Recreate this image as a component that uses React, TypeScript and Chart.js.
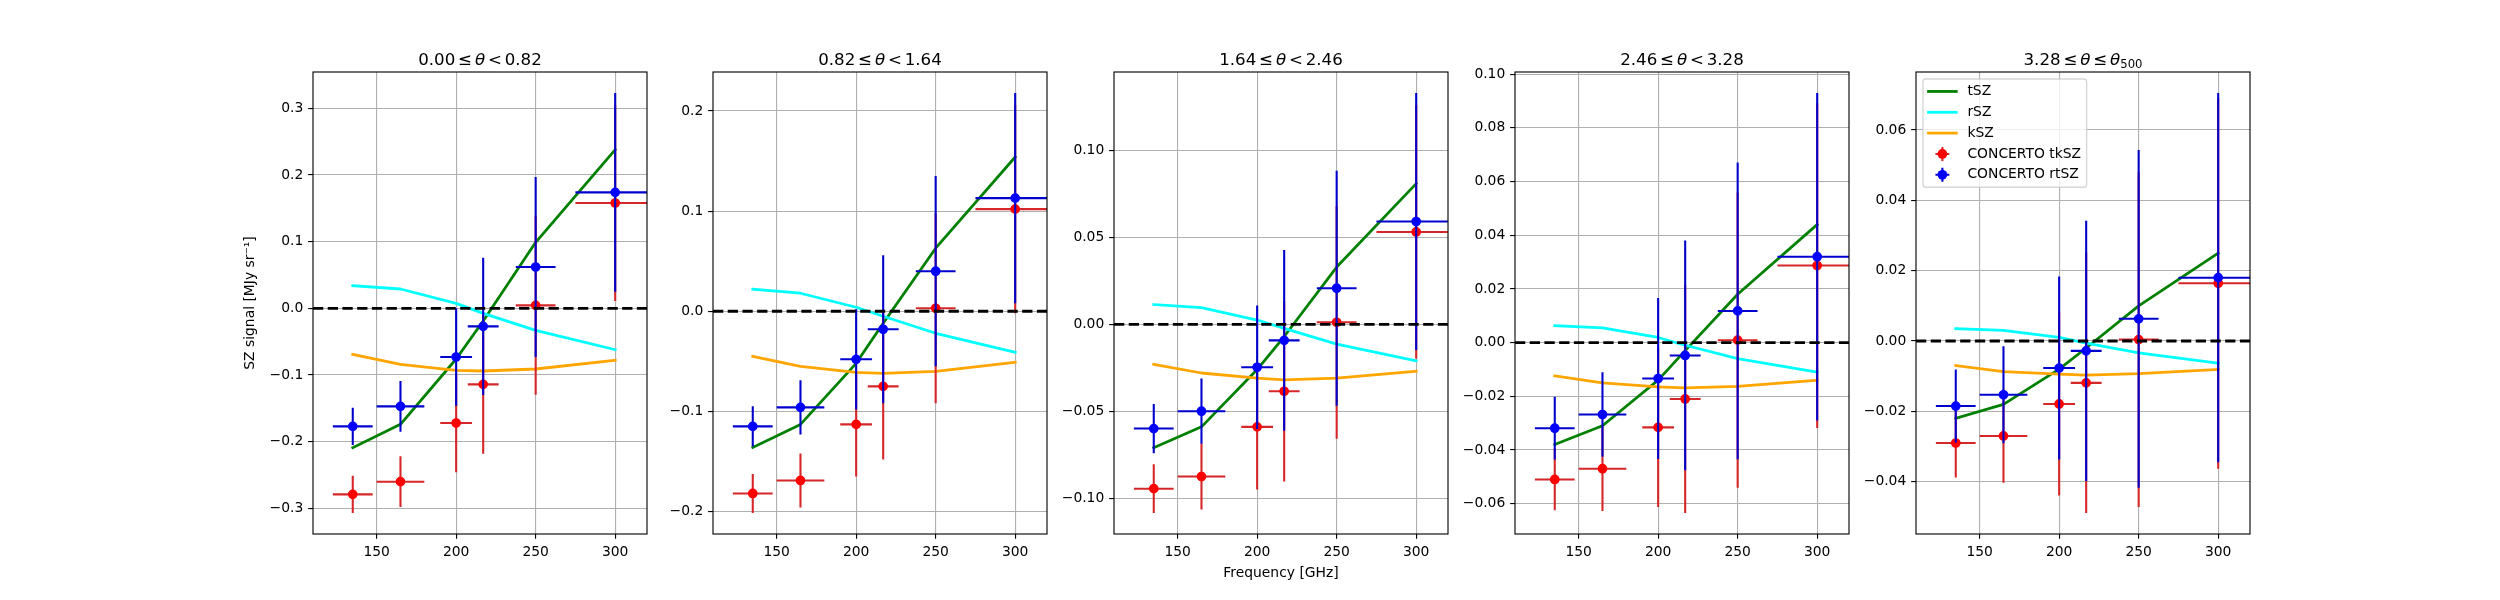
import { useEffect, useRef } from "react";
import { Chart, registerables } from "chart.js";

Chart.register(...registerables);

// CONCERTO band centres [GHz] and half band widths
const frequencies = [135, 165, 200, 217, 250, 300];
const bandHalfWidth = [12.5, 15, 10, 9.7, 12.5, 25];

const panelTitles = [
  "0.00 ≤ θ < 0.82",
  "0.82 ≤ θ < 1.64",
  "1.64 ≤ θ < 2.46",
  "2.46 ≤ θ < 3.28",
  "3.28 ≤ θ ≤ θ_500",
];

// model spectra per radial bin [MJy/sr]
const tSZ = [
  [-0.209, -0.174, -0.076, -0.019, 0.099, 0.238],
  [-0.136, -0.113, -0.052, -0.012, 0.063, 0.154],
  [-0.071, -0.059, -0.026, -0.007, 0.033, 0.081],
  [-0.038, -0.031, -0.014, -0.003, 0.018, 0.044],
  [-0.022, -0.018, -0.008, -0.002, 0.01, 0.025],
];
const rSZ = [
  [0.034, 0.029, 0.0075, -0.0075, -0.033, -0.062],
  [0.022, 0.018, 0.004, -0.005, -0.022, -0.041],
  [0.0114, 0.0096, 0.0025, -0.0023, -0.0114, -0.021],
  [0.0063, 0.0055, 0.0019, -0.001, -0.006, -0.011],
  [0.0035, 0.003, 0.001, -0.0006, -0.0034, -0.0063],
];
const kSZ = [
  [-0.069, -0.084, -0.093, -0.094, -0.091, -0.078],
  [-0.045, -0.055, -0.061, -0.062, -0.06, -0.051],
  [-0.023, -0.028, -0.031, -0.032, -0.031, -0.027],
  [-0.0124, -0.015, -0.0165, -0.0169, -0.0163, -0.014],
  [-0.007, -0.0087, -0.0094, -0.0097, -0.0093, -0.0081],
];

// CONCERTO reconstructions with 1 sigma errors
const tkSZ = [
  [-0.279, -0.26, -0.172, -0.114, 0.0045, 0.158],
  [-0.182, -0.169, -0.113, -0.075, 0.003, 0.102],
  [-0.0946, -0.0876, -0.059, -0.0385, 0.0012, 0.0532],
  [-0.051, -0.047, -0.0316, -0.021, 0.0009, 0.0287],
  [-0.029, -0.027, -0.0179, -0.0119, 0.0004, 0.0164],
];
const tkSZErr = [
  [0.028, 0.038, 0.074, 0.104, 0.134, 0.147],
  [0.0195, 0.027, 0.052, 0.073, 0.095, 0.104],
  [0.014, 0.019, 0.036, 0.052, 0.067, 0.073],
  [0.0115, 0.0158, 0.0297, 0.0425, 0.055, 0.0605],
  [0.0098, 0.0133, 0.026, 0.037, 0.0476, 0.0527],
];
const rtSZ = [
  [-0.177, -0.147, -0.073, -0.027, 0.062, 0.174],
  [-0.115, -0.096, -0.048, -0.018, 0.04, 0.113],
  [-0.06, -0.05, -0.0247, -0.0092, 0.0208, 0.0592],
  [-0.0319, -0.0268, -0.0134, -0.0048, 0.0118, 0.032],
  [-0.0185, -0.0153, -0.0077, -0.0028, 0.0063, 0.018],
];
const rtSZErr = [
  [0.028, 0.038, 0.073, 0.103, 0.135, 0.149],
  [0.02, 0.027, 0.05, 0.074, 0.095, 0.105],
  [0.0142, 0.0188, 0.0355, 0.052, 0.0677, 0.074],
  [0.0117, 0.0157, 0.03, 0.0428, 0.0553, 0.061],
  [0.0104, 0.0138, 0.026, 0.037, 0.048, 0.0525],
];

const xRange = [110, 320];
const xTicks = [150, 200, 250, 300];
const yTicks = [
  [-0.3, -0.2, -0.1, 0, 0.1, 0.2, 0.3],
  [-0.2, -0.1, 0, 0.1, 0.2],
  [-0.1, -0.05, 0, 0.05, 0.1],
  [-0.06, -0.04, -0.02, 0, 0.02, 0.04, 0.06, 0.08, 0.1],
  [-0.04, -0.02, 0, 0.02, 0.04, 0.06],
];
const yDecimals = [1, 1, 2, 2, 2];
const legendOrder = ["tSZ", "rSZ", "kSZ", "CONCERTO tkSZ", "CONCERTO rtSZ"];

// figure geometry (matplotlib 25x6 in at 100 dpi)
const PX = 100 / 72;
const FONT = "'DejaVu Sans'";
const FS = 10 * PX;
const AX_TOP = 72;
const AX_BOTTOM = 534;
const AX_W = 334;
const GUTTER = 110;
const RIGHT_PAD = 15;
const CANVAS_W = GUTTER + AX_W + RIGHT_PAD;
const axLeft = (i: number) => Math.round(312.5 + i * 400.9);

Chart.defaults.font.family = FONT;
Chart.defaults.font.size = FS;
Chart.defaults.color = "#000";

const fmt = (v: number, d: number) => {
  const s = Math.abs(v).toFixed(d);
  return v < -1e-9 ? "\u2212" + s : s;
};

function yLimits(i: number) {
  let lo = Infinity;
  let hi = -Infinity;
  const pairs: [number[], number[]][] = [
    [tkSZ[i], tkSZErr[i]],
    [rtSZ[i], rtSZErr[i]],
  ];
  for (const [vals, errs] of pairs) {
    vals.forEach((v, k) => {
      lo = Math.min(lo, v - errs[k]);
      hi = Math.max(hi, v + errs[k]);
    });
  }
  for (const vals of [tSZ[i], rSZ[i], kSZ[i]]) {
    lo = Math.min(lo, ...vals);
    hi = Math.max(hi, ...vals);
  }
  const m = (hi - lo) * 0.05;
  return [lo - m, hi + m];
}

const errorBars = {
  id: "errorBars",
  beforeDatasetDraw(chart: any, args: any) {
    const ds = chart.data.datasets[args.index];
    if (!ds.yErr) return;
    const { ctx, chartArea: a } = chart;
    const { x, y } = chart.scales;
    ctx.save();
    ctx.beginPath();
    ctx.rect(a.left, a.top, a.right - a.left, a.bottom - a.top);
    ctx.clip();
    ctx.strokeStyle = ds.barColor;
    ctx.lineWidth = 1.5 * PX;
    ctx.lineCap = "butt";
    ctx.beginPath();
    ds.data.forEach((p: any, k: number) => {
      const px = x.getPixelForValue(p.x);
      const py = y.getPixelForValue(p.y);
      ctx.moveTo(x.getPixelForValue(p.x - ds.xErr[k]), py);
      ctx.lineTo(x.getPixelForValue(p.x + ds.xErr[k]), py);
      ctx.moveTo(px, y.getPixelForValue(p.y - ds.yErr[k]));
      ctx.lineTo(px, y.getPixelForValue(p.y + ds.yErr[k]));
    });
    ctx.stroke();
    ctx.restore();
  },
};

const frame = {
  id: "frame",
  afterDatasetsDraw(chart: any) {
    const { ctx, chartArea: a } = chart;
    ctx.save();
    ctx.strokeStyle = "#000";
    ctx.lineWidth = 0.8 * PX;
    ctx.strokeRect(a.left, a.top, a.right - a.left, a.bottom - a.top);
    ctx.restore();
  },
};

function titlePlugin(text: string) {
  return {
    id: "panelTitle",
    afterDraw(chart: any) {
      const { ctx, chartArea: a } = chart;
      const size = 12 * PX;
      const gap = 0.17 * size;
      const pieces: { t: string; font: string; dy: number; tight: boolean }[] = [];
      for (const tok of text.split(" ")) {
        if (tok.startsWith("θ")) {
          pieces.push({ t: "θ", font: `italic ${size}px ${FONT}`, dy: 0, tight: false });
          const sub = tok.split("_")[1];
          if (sub) pieces.push({ t: sub, font: `${size * 0.7}px ${FONT}`, dy: 0.22 * size, tight: true });
        } else {
          pieces.push({ t: tok, font: `${size}px ${FONT}`, dy: 0, tight: false });
        }
      }
      ctx.save();
      const widths = pieces.map((p) => {
        ctx.font = p.font;
        return ctx.measureText(p.t).width;
      });
      let total = 0;
      pieces.forEach((p, k) => {
        if (k > 0 && !p.tight) total += gap;
        total += widths[k];
      });
      let x = (a.left + a.right) / 2 - total / 2;
      const base = a.top - 7.5;
      ctx.fillStyle = "#000";
      ctx.textBaseline = "alphabetic";
      ctx.textAlign = "left";
      pieces.forEach((p, k) => {
        if (k > 0 && !p.tight) x += gap;
        ctx.font = p.font;
        ctx.fillText(p.t, x, base + p.dy);
        x += widths[k];
      });
      ctx.restore();
    },
  };
}

const panelLegend = {
  id: "panelLegend",
  afterDraw(chart: any) {
    const { ctx, chartArea: a } = chart;
    const items = legendOrder.map((l) => chart.data.datasets.find((d: any) => d.label === l));
    const pad = 0.4 * FS;
    const handle = 2 * FS;
    const tpad = 0.8 * FS;
    const gapY = 0.5 * FS;
    ctx.save();
    ctx.font = `${FS}px ${FONT}`;
    const textW = Math.max(...items.map((d: any) => ctx.measureText(d.label).width));
    const x0 = a.left + 0.5 * FS;
    const y0 = a.top + 0.5 * FS;
    const w = 2 * pad + handle + tpad + textW;
    const h = 2 * pad + items.length * FS + (items.length - 1) * gapY;
    ctx.beginPath();
    ctx.roundRect(x0, y0, w, h, 0.2 * FS);
    ctx.fillStyle = "rgba(255,255,255,0.8)";
    ctx.fill();
    ctx.strokeStyle = "rgba(204,204,204,0.8)";
    ctx.lineWidth = PX;
    ctx.stroke();
    items.forEach((d: any, k: number) => {
      const cy = y0 + pad + FS / 2 + k * (FS + gapY);
      const hx = x0 + pad;
      if (d.yErr) {
        const cx = hx + handle / 2;
        const e = 0.5 * FS;
        ctx.strokeStyle = d.barColor;
        ctx.lineWidth = 1.5 * PX;
        ctx.lineCap = "butt";
        ctx.beginPath();
        ctx.moveTo(cx - e, cy);
        ctx.lineTo(cx + e, cy);
        ctx.moveTo(cx, cy - e);
        ctx.lineTo(cx, cy + e);
        ctx.stroke();
        ctx.fillStyle = d.pointBackgroundColor;
        ctx.beginPath();
        ctx.arc(cx, cy, d.pointRadius + d.pointBorderWidth / 2, 0, Math.PI * 2);
        ctx.fill();
      } else {
        ctx.strokeStyle = d.borderColor;
        ctx.lineWidth = d.borderWidth;
        ctx.lineCap = "square";
        ctx.beginPath();
        ctx.moveTo(hx, cy);
        ctx.lineTo(hx + handle, cy);
        ctx.stroke();
      }
      ctx.fillStyle = "#000";
      ctx.textBaseline = "middle";
      ctx.textAlign = "left";
      ctx.fillText(d.label, hx + handle + tpad, cy);
    });
    ctx.restore();
  },
};

function makeConfig(i: number): any {
  const xy = (vals: number[]) => vals.map((v, k) => ({ x: frequencies[k], y: v }));
  const [yMin, yMax] = yLimits(i);
  const curve = (label: string, vals: number[], color: string, order: number) => ({
    type: "line",
    label,
    data: xy(vals),
    borderColor: color,
    backgroundColor: color,
    borderWidth: 2 * PX,
    borderJoinStyle: "round",
    borderCapStyle: "square",
    pointRadius: 0,
    tension: 0,
    fill: false,
    order,
  });
  const points = (label: string, vals: number[], errs: number[], color: string, barColor: string, order: number) => ({
    type: "line",
    label,
    data: xy(vals),
    showLine: false,
    pointRadius: 3 * PX,
    pointBackgroundColor: color,
    pointBorderColor: color,
    pointBorderWidth: PX,
    xErr: bandHalfWidth,
    yErr: errs,
    barColor,
    order,
  });

  const yAxisX = 250;
  const xAxisY = 573;
  const lineH = FS * 1.2;

  return {
    type: "line",
    data: {
      datasets: [
        curve("tSZ", tSZ[i], "#008000", 5),
        curve("rSZ", rSZ[i], "#00ffff", 4),
        curve("kSZ", kSZ[i], "#ffa500", 3),
        points("CONCERTO tkSZ", tkSZ[i], tkSZErr[i], "#ff0000", "#d62728", 2),
        points("CONCERTO rtSZ", rtSZ[i], rtSZErr[i], "#0000ff", "#0000cd", 1),
        {
          type: "line",
          data: xRange.map((x) => ({ x, y: 0 })),
          borderColor: "#000",
          borderWidth: 2 * PX,
          borderDash: [3.7 * 2 * PX, 1.6 * 2 * PX],
          pointRadius: 0,
          order: 0,
        },
      ],
    },
    options: {
      animation: false,
      responsive: false,
      events: [],
      layout: { padding: { top: AX_TOP, right: RIGHT_PAD, left: 0, bottom: 0 } },
      plugins: {
        legend: { display: false },
        tooltip: { enabled: false },
        title: { display: false },
      },
      scales: {
        x: {
          type: "linear",
          min: xRange[0],
          max: xRange[1],
          afterBuildTicks: (s: any) => {
            s.ticks = xTicks.map((v) => ({ value: v }));
          },
          afterFit: (s: any) => {
            s.height = 600 - AX_BOTTOM;
          },
          border: { display: false },
          grid: {
            color: "#b0b0b0",
            lineWidth: 0.8 * PX,
            tickLength: 3.5 * PX,
            tickColor: "#000",
            tickWidth: 0.8 * PX,
          },
          ticks: {
            padding: 3.5 * PX,
            maxRotation: 0,
            autoSkip: false,
            color: "#000",
            callback: (v: number) => String(v),
          },
          title: {
            display: i === 2,
            text: "Frequency [GHz]",
            color: "#000",
            padding: { top: 0, bottom: 600 - xAxisY - lineH / 2 },
          },
        },
        y: {
          type: "linear",
          min: yMin,
          max: yMax,
          afterBuildTicks: (s: any) => {
            s.ticks = yTicks[i].map((v) => ({ value: v }));
          },
          afterFit: (s: any) => {
            s.width = GUTTER;
          },
          border: { display: false },
          grid: {
            color: "#b0b0b0",
            lineWidth: 0.8 * PX,
            tickLength: 3.5 * PX,
            tickColor: "#000",
            tickWidth: 0.8 * PX,
          },
          ticks: {
            padding: 3.5 * PX,
            autoSkip: false,
            color: "#000",
            callback: (v: number) => fmt(v, yDecimals[i]),
          },
          title: {
            display: i === 0,
            text: "SZ signal [MJy sr\u207B\u00B9]",
            color: "#000",
            padding: { top: yAxisX - (axLeft(i) - GUTTER) - lineH / 2, bottom: 0 },
          },
        },
      },
    },
    plugins: [errorBars, frame, titlePlugin(panelTitles[i]), ...(i === 4 ? [panelLegend] : [])],
  };
}

const Panel = ({ index }: { index: number }) => {
  const canvasRef = useRef<HTMLCanvasElement>(null);

  useEffect(() => {
    if (!canvasRef.current) return;
    const chart = new Chart(canvasRef.current, makeConfig(index));
    return () => chart.destroy();
  }, [index]);

  return (
    <canvas
      ref={canvasRef}
      width={CANVAS_W}
      height={600}
      style={{ position: "absolute", left: axLeft(index) - GUTTER, top: 0, width: CANVAS_W, height: 600 }}
    ></canvas>
  );
};

export default function App() {
  useEffect(() => {
    document.body.style.margin = "0";
  }, []);

  return (
    <div style={{ position: "relative", width: 2500, height: 600, background: "#fff", overflow: "hidden" }}>
      {panelTitles.map((_, i) => (
        <Panel key={i} index={i} />
      ))}
    </div>
  );
}
